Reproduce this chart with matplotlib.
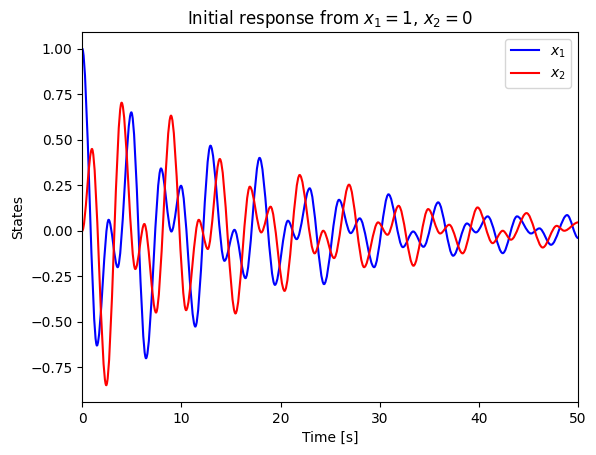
import matplotlib.pyplot as plt
from matplotlib.path import Path
from matplotlib.patches import PathPatch

# turning points (time [s], state)
x1_t = [0.0, 1.48, 2.66, 3.57, 4.95, 6.43, 7.94, 8.99, 9.96, 11.4, 12.93, 14.34,
        15.35, 16.46, 17.88, 19.43, 20.74, 21.62, 22.93, 24.38, 25.89, 27.07,
        27.98, 29.43, 30.88, 32.33, 33.37, 34.41, 35.89, 37.4, 38.79, 39.7,
        40.88, 42.4, 43.84, 45.25, 46.1, 47.27, 48.89, 50.0]
x1_v = [1.0, -0.63, 0.06, -0.2, 0.65, -0.70, 0.342, -0.004, 0.247, -0.526, 0.467,
        -0.165, 0.005, -0.26, 0.40, -0.297, 0.055, -0.046, 0.233, -0.293, 0.17,
        -0.013, 0.068, -0.2, 0.2, -0.09, -0.004, -0.088, 0.156, -0.137, 0.04,
        -0.009, 0.079, -0.123, 0.079, -0.015, 0.013, -0.077, 0.086, -0.04]

x2_t = [0.0, 0.98, 2.42, 3.97, 5.35, 6.26, 7.44, 8.95, 10.47, 11.75, 12.66, 13.87,
        15.45, 16.9, 18.05, 18.99, 20.4, 21.92, 23.43, 24.3, 25.39, 26.9, 28.42,
        29.83, 30.78, 31.9, 33.4, 34.88, 36.09, 37.0, 38.35, 39.86, 41.38, 42.4,
        43.23, 44.8, 46.43, 47.84, 48.6, 50.0]
x2_v = [0.0, 0.449, -0.848, 0.703, -0.21, 0.037, -0.449, 0.632, -0.436, 0.06, -0.10,
        0.394, -0.454, 0.242, -0.009, 0.132, -0.33, 0.306, -0.124, 0.0, -0.15,
        0.253, -0.2, 0.046, -0.022, 0.137, -0.192, 0.119, -0.015, 0.033, -0.124,
        0.128, -0.068, 0.0, -0.049, 0.097, -0.092, 0.027, 0.0, 0.046]


def smooth_path(ts, vs):
    # cubic segments with flat tangents at each turning point
    verts = [(ts[0], vs[0])]
    codes = [Path.MOVETO]
    for i in range(len(ts) - 1):
        dt = ts[i + 1] - ts[i]
        verts += [(ts[i] + dt / 3, vs[i]), (ts[i + 1] - dt / 3, vs[i + 1]),
                  (ts[i + 1], vs[i + 1])]
        codes += [Path.CURVE4] * 3
    return Path(verts, codes)


fig, ax = plt.subplots(figsize=(5.96, 4.55), dpi=100)
fig.subplots_adjust(left=0.138, right=0.970, top=0.930, bottom=0.1165)

for ts, vs, col, lab in [(x1_t, x1_v, "b", "$x_1$"), (x2_t, x2_v, "r", "$x_2$")]:
    ax.add_patch(PathPatch(smooth_path(ts, vs), fill=False, edgecolor=col, lw=1.5))
    ax.plot([], [], color=col, label=lab)
    ax.update_datalim(list(zip(ts, vs)))

ax.autoscale_view()
ax.set_xlim(0, 50)
ax.set_xlabel("Time [s]")
ax.set_ylabel("States")
ax.set_title("Initial response from $x_1 = 1$, $x_2 = 0$")
ax.legend(loc="upper right")

fig.savefig("out.png")
